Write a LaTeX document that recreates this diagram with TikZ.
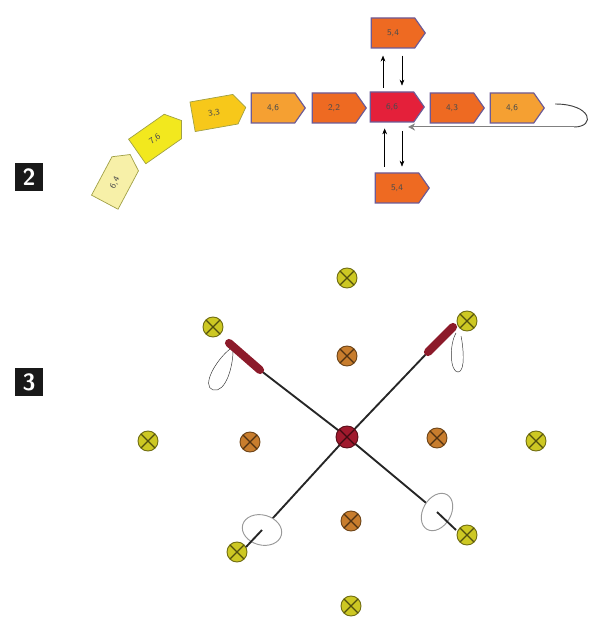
\documentclass[tikz,border=0pt]{standalone}
\usetikzlibrary{arrows.meta,shapes.symbols}
\definecolor{paleyel}{RGB}{247,240,168}
\definecolor{lemon}{RGB}{242,232,30}
\definecolor{gold}{RGB}{247,200,26}
\definecolor{amber}{RGB}{245,160,50}
\definecolor{tangerine}{RGB}{238,106,34}
\definecolor{hot}{RGB}{228,32,58}
\definecolor{tagline}{RGB}{108,90,150}
\definecolor{oliveline}{RGB}{160,160,70}
\definecolor{spotyel}{RGB}{205,200,35}
\definecolor{spotbrown}{RGB}{200,125,45}
\definecolor{spotred}{RGB}{160,25,45}
\definecolor{gripc}{RGB}{140,26,42}

\begin{document}
\begin{tikzpicture}[x=0.03cm, y=-0.03cm,
  tag/.style={shape=signal, signal to=east, signal pointer angle=110,
              draw=tagline, line width=1pt, fill=#1, minimum width=1.62cm,
              minimum height=0.9cm, inner sep=0pt, text=black!70,
              font=\fontsize{7.5}{8}\selectfont\sffamily},
  ytag/.style={tag=#1, draw=oliveline, line width=0.6pt},
  flow/.style={-{Stealth[length=5pt,width=4pt]}, thin, black},
  ret/.style={-{Stealth[length=6pt,width=6pt]}, draw=gray, double=white, double distance=0.8pt},
  badge/.style={fill=black!90, text=white, minimum size=0.84cm, inner sep=0pt,
                font=\fontsize{20}{24}\selectfont\sffamily\bfseries},
  spot/.style={circle, draw=#1!55!black, fill=#1, line width=0.8pt,
               minimum size=0.6cm, inner sep=0pt,
               path picture={\draw[#1!40!black, line width=1pt]
                 (path picture bounding box.north west) -- (path picture bounding box.south east)
                 (path picture bounding box.north east) -- (path picture bounding box.south west);}},
  pole/.style={line width=1.6pt, black!85},
  grip/.style={line width=7pt, gripc, line cap=round},
  strap/.style={thin, black!80},
  basket/.style={gray!80, line width=0.8pt, fill=white},
]
\useasboundingbox (0,0) rectangle (597,629);

% section numbers
\node[badge] (two) at (29,177) {2};
\node[badge] (three) at (29,382) {3};

% chain of tags
\node[ytag=paleyel, rotate=62] (t1) at (115,183) {6,4};
\node[ytag=lemon, rotate=35] (t2) at (155,139) {7,6};
\node[ytag=gold, rotate=10] (t3) at (214,113) {3,3};
\node[tag=amber] (t4) at (273,108) {4,6};
\node[tag=tangerine] (t5) at (334,108) {2,2};
\node[tag=hot] (c) at (392,107) {6,6};
\node[tag=tangerine] (t7) at (452,108) {4,3};
\node[tag=amber] (t8) at (512,108) {4,6};
\node[tag=tangerine] (up) at (393,33) {5,4};
\node[tag=tangerine] (dn) at (397,188) {5,4};

% exchange with the side tags
\draw[flow, shorten <=3pt, shorten >=6pt] ([xshift=-0.27cm]c.north) -- ([xshift=-0.27cm]c.north |- up.south);
\draw[flow, shorten <=6pt, shorten >=5pt] ([xshift=0.3cm]c.north |- up.south) -- ([xshift=0.3cm]c.north);
\draw[flow, shorten <=5pt, shorten >=5pt] ([xshift=-0.22cm]c.south |- dn.north) -- ([xshift=-0.22cm]c.south);
\draw[flow, shorten <=7pt, shorten >=5pt] ([xshift=0.3cm]c.south) -- ([xshift=0.3cm]c.south |- dn.north);

% return loop
\coordinate (loopA) at (555,104);
\coordinate (loopB) at (574,127);
\coordinate (loopC) at (408,127);
\draw[line width=0.8pt, black!75] (loopA) .. controls (592,104) and (596,127) .. (loopB);
\draw[ret] (loopB) -- (loopC);

% grid of spots
\foreach \n/\x/\y in {a/347/278, b/213/327, c/467/321, d/148/441,
                      e/536/441, f/237/552, g/467/535, h/351/606}
  \node[spot=spotyel] (s\n) at (\x,\y) {};
\foreach \n/\x/\y in {a/347/356, b/250/442, c/437/438, d/351/521}
  \node[spot=spotbrown] (i\n) at (\x,\y) {};

% crossed poles
\coordinate (gripL) at (260,370);
\coordinate (gripLtop) at (229,343);
\coordinate (gripR) at (428,352);
\coordinate (gripRtop) at (453,327);
\coordinate (baskL) at (262,530);
\coordinate (tipL) at (246,547);
\coordinate (baskR) at (437,512);
\coordinate (tipR) at (456,530);

\draw[pole] (347,437) -- (gripL);
\draw[pole] (347,437) -- (gripR);
\draw[pole] (347,437) -- (baskL);
\draw[pole] (347,437) -- (baskR);
\draw[grip] (gripL) -- (gripLtop);
\draw[grip] (gripR) -- (gripRtop);
\draw[strap] (230,349) .. controls (216,360) and (201,386) .. (213,390)
  .. controls (226,393) and (233,366) .. (233,351);
\draw[strap] (456,333) .. controls (449,345) and (450,372) .. (458,372)
  .. controls (466,372) and (463,345) .. (461,336);
\draw[basket, rotate around={-15:(baskL)}] (baskL) ellipse [x radius=0.6cm, y radius=0.45cm];
\draw[basket, rotate around={60:(baskR)}] (baskR) ellipse [x radius=0.6cm, y radius=0.42cm];
\draw[pole] (baskL) -- (tipL);
\draw[pole] (baskR) -- (tipR);
\node[spot=spotred, minimum size=0.66cm] (hub) at (347,437) {};

\end{tikzpicture}
\end{document}
